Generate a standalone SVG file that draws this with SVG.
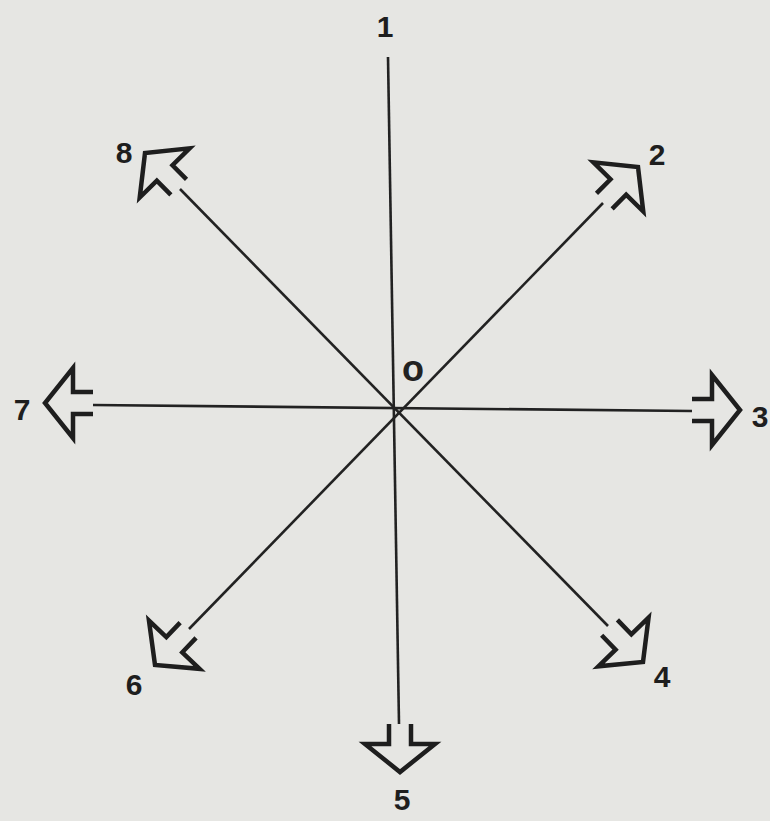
<svg xmlns="http://www.w3.org/2000/svg" xmlns:xlink="http://www.w3.org/1999/xlink" width="770" height="821" viewBox="0 0 770 821">
<style>
.bg{fill:#e6e6e3}
.ln{stroke:#222;stroke-width:2.6;fill:none;stroke-linecap:butt}
.ah{stroke:#1e1e1e;stroke-width:4.5;fill:none;stroke-linejoin:miter;stroke-miterlimit:10}
.lb{font-family:"Liberation Sans",Arial,sans-serif;font-weight:bold;font-size:30px;fill:#1e1e1e;text-anchor:middle}
.o{font-family:"Liberation Sans",Arial,sans-serif;font-weight:bold;font-size:36px;fill:#222;text-anchor:middle}
</style>
<defs>
<polyline id="arr" class="ah" points="-48,-11 -28,-11 -28,-35 0,0 -28,35 -28,11 -48,11"/>
</defs>
<rect class="bg" x="0" y="0" width="770" height="821"/>
<g id="connectors">
<line class="ln" x1="388" y1="57" x2="399" y2="724"/>
<line class="ln" x1="93" y1="405" x2="692" y2="411"/>
<line class="ln" x1="180" y1="189" x2="608" y2="626"/>
<line class="ln" x1="603" y1="203" x2="189" y2="629"/>
</g>
<g id="arrow2"><use xlink:href="#arr" href="#arr" transform="translate(638,167) rotate(-45.4)"/></g>
<g id="arrow3"><use xlink:href="#arr" href="#arr" transform="translate(740,410)"/></g>
<g id="arrow4"><use xlink:href="#arr" href="#arr" transform="translate(643,662) rotate(45.8)"/></g>
<g id="arrow5"><use xlink:href="#arr" href="#arr" transform="translate(400,772) rotate(90)"/></g>
<g id="arrow6"><use xlink:href="#arr" href="#arr" transform="translate(155,665) rotate(133.6)"/></g>
<g id="arrow7"><use xlink:href="#arr" href="#arr" transform="translate(45,403) rotate(180)"/></g>
<g id="arrow8"><use xlink:href="#arr" href="#arr" transform="translate(145,153) rotate(225.4)"/></g>
<g id="labels">
<text class="lb" x="385" y="37">1</text>
<text class="lb" x="657" y="165">2</text>
<text class="lb" x="760" y="427">3</text>
<text class="lb" x="662" y="687">4</text>
<text class="lb" x="402" y="810">5</text>
<text class="lb" x="134" y="695">6</text>
<text class="lb" x="22" y="420">7</text>
<text class="lb" x="124" y="163">8</text>
<text class="o" x="413" y="381">o</text>
</g>
</svg>
